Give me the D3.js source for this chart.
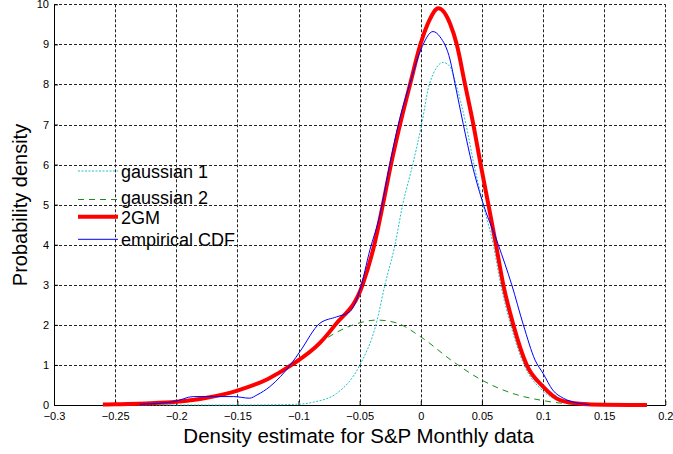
<!DOCTYPE html>
<html>
<head>
<meta charset="utf-8">
<script src="https://cdn.jsdelivr.net/npm/d3@7"></script>
<style>
  body { margin: 0; background: #fff; }
  svg text { font-family: "Liberation Sans", Arial, sans-serif; }
</style>
</head>
<body>
<div id="vis"></div>
<script>
// Density estimate chart (2-component gaussian mixture vs empirical)

// tick values
const xTicks = [-0.3, -0.25, -0.2, -0.15, -0.1, -0.05, 0, 0.05, 0.1, 0.15, 0.2];
const yTicks = [0, 1, 2, 3, 4, 5, 6, 7, 8, 9, 10];

// gaussian 1
const g1X = [-0.26, -0.2, -0.15, -0.12, -0.1, -0.088, -0.0688, -0.0498, -0.0367, -0.0293, -0.0211, -0.0148, -0.0066, 0.0007, 0.007, 0.0184, 0.024, 0.0288, 0.037, 0.0435, 0.0511, 0.0593, 0.0654, 0.0735, 0.0845, 0.1, 0.114, 0.13, 0.15, 0.185];
const g1Y = [0, 0, 0, 0.005, 0.02, 0.07, 0.29, 1.0, 2.0, 3.0, 4.0, 5.0, 6.0, 7.0, 8.0, 8.55, 8.44, 8.0, 7.0, 6.0, 5.0, 4.0, 3.0, 2.0, 1.0, 0.35, 0.1, 0.02, 0.003, 0];

// gaussian 2
const g2X = [-0.26, -0.225, -0.2, -0.175, -0.15, -0.125, -0.1, -0.0825, -0.0552, -0.036, -0.02, 0, 0.0266, 0.05, 0.073, 0.1, 0.122, 0.15, 0.185];
const g2Y = [0.01, 0.04, 0.08, 0.18, 0.35, 0.64, 1.1, 1.55, 2.0, 2.12, 2.05, 1.7, 1.08, 0.62, 0.31, 0.11, 0.03, 0.01, 0];

// 2GM (mixture)
const gmX = [-0.26, -0.25, -0.225, -0.2, -0.175, -0.15, -0.125, -0.1057, -0.0825, -0.07, -0.0476, -0.038, -0.031, -0.0244, -0.017, -0.0088, 0, 0.007, 0.0143, 0.0239, 0.0294, 0.0362, 0.043, 0.049, 0.0553, 0.0615, 0.0675, 0.0757, 0.0866, 0.1, 0.114, 0.13, 0.15, 0.185];
const gmY = [0.01, 0.02, 0.04, 0.08, 0.18, 0.36, 0.65, 1.0, 1.55, 2.0, 3.0, 4.0, 5.0, 6.0, 7.0, 8.0, 9.03, 9.6, 9.9, 9.52, 9.0, 8.0, 7.0, 6.0, 5.0, 4.0, 3.0, 2.0, 1.0, 0.46, 0.12, 0.03, 0.005, 0];

// empirical
const emX = [-0.23, -0.2025, -0.186, -0.153, -0.14, -0.134, -0.1234, -0.1057, -0.0989, -0.0825, -0.0688, -0.058, -0.0498, -0.0416, -0.0334, -0.0252, -0.0184, -0.0088, 0, 0.01, 0.0157, 0.024, 0.028, 0.0348, 0.042, 0.05, 0.0634, 0.0744, 0.0839, 0.0935, 0.1, 0.108, 0.1166, 0.128, 0.138];
const emY = [0.02, 0.08, 0.21, 0.21, 0.17, 0.25, 0.46, 1.04, 1.33, 2.04, 2.2, 2.33, 2.87, 3.87, 4.75, 6.03, 7.0, 8.03, 8.86, 9.32, 9.19, 8.61, 8.02, 7.0, 6.0, 5.12, 4.0, 3.0, 2.0, 1.12, 0.79, 0.37, 0.17, 0.05, 0.01];

const seriesNames = ["gaussian 1", "gaussian 2", "2GM", "empirical CDF"];

const width = 673;
const height = 454;
const margin = { top: 4.3, right: 7.7, bottom: 49, left: 54 };

const svg = d3.select("#vis")
  .append("svg")
  .attr("width", width)
  .attr("height", height);

svg.append("rect")
  .attr("width", width)
  .attr("height", height)
  .attr("fill", "#fff");

const xScale = d3.scaleLinear()
  .domain([-0.3, 0.2])
  .range([margin.left, width - margin.right]);

const yScale = d3.scaleLinear()
  .domain([0, 10])
  .range([height - margin.bottom, margin.top]);

// dotted grid
const gridStyle = g => g
  .attr("stroke", "#222")
  .attr("stroke-width", 1)
  .attr("stroke-dasharray", "3,2");

svg.append("g")
  .call(gridStyle)
  .selectAll("line")
  .data(xTicks.slice(1))
  .enter()
  .append("line")
  .attr("x1", d => Math.round(xScale(d)) + 0.5)
  .attr("x2", d => Math.round(xScale(d)) + 0.5)
  .attr("y1", yScale(10))
  .attr("y2", yScale(0));

svg.append("g")
  .call(gridStyle)
  .selectAll("line")
  .data(yTicks.slice(1))
  .enter()
  .append("line")
  .attr("x1", xScale(-0.3))
  .attr("x2", xScale(0.2))
  .attr("y1", d => Math.round(yScale(d)) + 0.5)
  .attr("y2", d => Math.round(yScale(d)) + 0.5);

// axes (ticks inside, like MATLAB)
const xAxis = svg.append("g")
  .attr("transform", `translate(0,${yScale(0)})`)
  .call(d3.axisBottom(xScale).tickValues(xTicks).tickSizeInner(-4).tickSizeOuter(0).tickPadding(7).tickFormat(d => d3.format("")(d)));

const yAxis = svg.append("g")
  .attr("transform", `translate(${xScale(-0.3)},0)`)
  .call(d3.axisLeft(yScale).tickValues(yTicks).tickSizeInner(-4).tickSizeOuter(0).tickPadding(5));

[xAxis, yAxis].forEach(ax => {
  ax.select(".domain").attr("stroke", "#000").attr("stroke-width", 1);
  ax.selectAll(".tick line").attr("stroke", "#000");
  ax.selectAll("text")
    .attr("fill", "#000")
    .style("font-size", "11px")
    .style("font-family", "'Liberation Sans', Arial, sans-serif");
});

// curves
const line = d3.line()
  .x(d => xScale(d[0]))
  .y(d => yScale(d[1]))
  .curve(d3.curveMonotoneX);

const zip = (xs, ys) => xs.map((x, i) => [x, ys[i]]);

const series = [
  { data: zip(g1X, g1Y), color: "#1fc3c8", width: 1, dash: "2,1.5" },
  { data: zip(g2X, g2Y), color: "#1a8a1a", width: 1, dash: "6,5" },
  { data: zip(gmX, gmY), color: "#ff0000", width: 4, dash: null },
  { data: zip(emX, emY), color: "#0000ff", width: 1, dash: null }
];

series.forEach(s => {
  svg.append("path")
    .datum(s.data)
    .attr("fill", "none")
    .attr("stroke", s.color)
    .attr("stroke-width", s.width)
    .attr("stroke-dasharray", s.dash)
    .attr("stroke-linejoin", "round")
    .attr("d", line);
});

// legend (no box)
const legendRows = [171, 199.5, 216.7, 239.3];
const legendText = [177.5, 203.5, 223.5, 245.5];

series.forEach((s, i) => {
  svg.append("line")
    .attr("x1", 78)
    .attr("x2", 118)
    .attr("y1", legendRows[i])
    .attr("y2", legendRows[i])
    .attr("stroke", s.color)
    .attr("stroke-width", s.width)
    .attr("stroke-dasharray", s.dash);

  svg.append("text")
    .attr("x", 121)
    .attr("y", legendText[i])
    .attr("fill", "#000")
    .style("font-size", "18px")
    .text(seriesNames[i]);
});

// axis titles
svg.append("text")
  .attr("x", (xScale(-0.3) + xScale(0.2)) / 2 - 1)
  .attr("y", 443)
  .attr("text-anchor", "middle")
  .attr("fill", "#000")
  .style("font-size", "20.5px")
  .text("Density estimate for S&P Monthly data");

svg.append("text")
  .attr("transform", "rotate(-90)")
  .attr("x", -205)
  .attr("y", 27)
  .attr("text-anchor", "middle")
  .attr("fill", "#000")
  .style("font-size", "20px")
  .text("Probability density");
</script>
</body>
</html>
